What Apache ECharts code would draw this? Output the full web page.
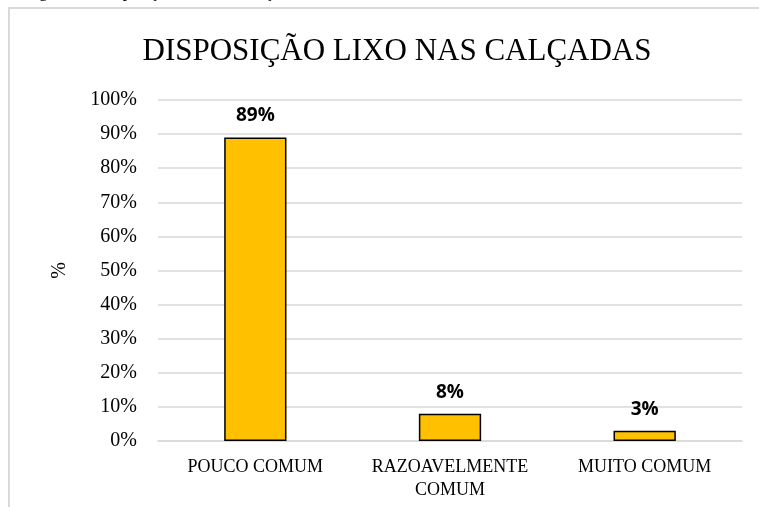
<!DOCTYPE html>
<html>
<head>
<meta charset="utf-8">
<script src="https://cdn.jsdelivr.net/npm/echarts@6/dist/echarts.min.js"></script>
<style>
  html, body { margin: 0; padding: 0; background: #fff; }
  #main { width: 759px; height: 507px; }
</style>
</head>
<body>
<div id="main"></div>
<script>
// dados do gráfico
const categorias = ['POUCO COMUM', 'RAZOAVELMENTE\nCOMUM', 'MUITO COMUM']
const valores = [89, 8, 3]
const ticks = [0, 10, 20, 30, 40, 50, 60, 70, 80, 90, 100]

const chart = echarts.init(document.getElementById('main'), null, {renderer: 'canvas'})
const serif = '"Liberation Serif", "DejaVu Serif", serif'
const sans = '"Open Sans", "Noto Sans", sans-serif'

const option = {
  animation: false,
  backgroundColor: '#fff',
  title: {
    text: 'DISPOSIÇÃO LIXO NAS CALÇADAS',
    left: 392,
    textAlign: 'center',
    top: 31,
    textStyle: {fontFamily: serif, fontSize: 31, fontWeight: 'normal', color: '#000'}
  },
  graphic: [
    // legenda da figura, cortada no topo
    {
      type: 'text', left: 25, top: -16,
      style: {text: 'Figura 4 – Disposição Lixo nas Calçadas', font: '17px ' + serif, fill: '#000'}
    },
    // moldura da área do gráfico
    {
      type: 'rect', shape: {x: 9, y: 8, width: 800, height: 560},
      style: {fill: 'none', stroke: '#d9d9d9', lineWidth: 2}, silent: true
    }
  ],
  grid: {left: 158, right: 17, top: 100, bottom: 66},
  xAxis: {
    type: 'category',
    data: categorias,
    axisLine: {lineStyle: {color: '#d9d9d9', width: 1.5}},
    axisTick: {show: false},
    axisLabel: {fontFamily: serif, fontSize: 18, color: '#000', margin: 15, lineHeight: 23, interval: 0}
  },
  yAxis: {
    type: 'value',
    min: ticks[0],
    max: ticks[ticks.length - 1],
    interval: 10,
    name: '%',
    nameLocation: 'middle',
    nameGap: 88,
    nameRotate: 90,
    nameTextStyle: {fontFamily: serif, fontSize: 20, color: '#000'},
    axisLine: {show: false},
    axisTick: {show: false},
    splitLine: {lineStyle: {color: '#d9d9d9', width: 1.5}},
    axisLabel: {fontFamily: serif, fontSize: 20, color: '#000', margin: 21, formatter: '{value}%'}
  },
  series: [
    {
      type: 'bar',
      data: valores,
      barWidth: '32%',
      itemStyle: {color: '#FFC000', borderColor: '#000', borderWidth: 1.5},
      label: {
        show: true,
        position: 'top',
        distance: 12,
        formatter: '{c}%',
        fontFamily: sans,
        fontSize: 19,
        fontWeight: 'bold',
        color: '#000'
      }
    }
  ]
}

chart.setOption(option)
</script>
</body>
</html>
